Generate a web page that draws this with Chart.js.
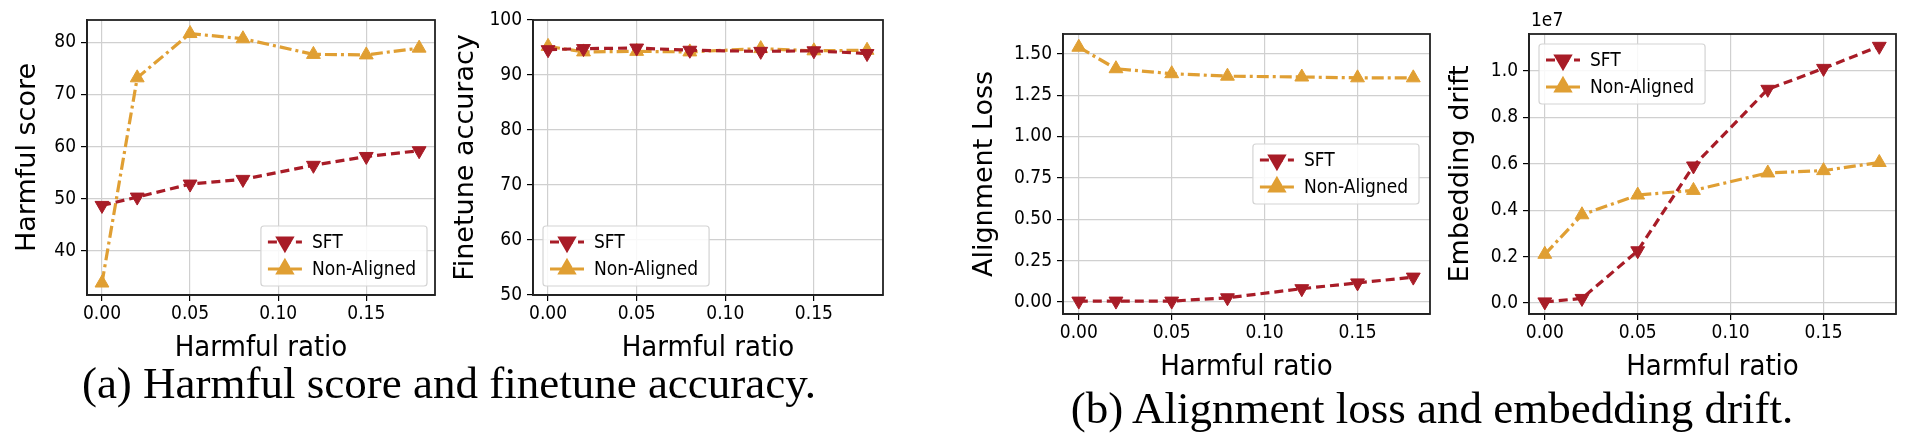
<!DOCTYPE html>
<html><head><meta charset="utf-8">
<script src="https://cdn.jsdelivr.net/npm/chart.js@4"></script>
<style>
body{margin:0;background:#fff;width:1922px;height:442px;position:relative;overflow:hidden}
.c{position:absolute}
.cap{position:absolute;font-family:"Liberation Serif",serif;font-size:45px;color:#000;white-space:nowrap;transform:translate(-50%,-50%)}
</style></head><body>
<div class="c" style="left:0;top:-10px;width:445px;height:380px"><canvas id="c1"></canvas></div>
<div class="c" style="left:446px;top:-10px;width:447px;height:380px"><canvas id="c2"></canvas></div>
<div class="c" style="left:968px;top:4px;width:472px;height:385px"><canvas id="c3"></canvas></div>
<div class="c" style="left:1439px;top:4px;width:467px;height:385px"><canvas id="c4"></canvas></div>
<div class="cap" style="left:449px;top:383px">(a) Harmful score and finetune accuracy.</div>
<div class="cap" style="left:1432px;top:408px">(b) Alignment loss and embedding drift.</div>
<script>
const ratios = [0, 0.02, 0.05, 0.08, 0.12, 0.15, 0.18];
const xTicks = [0, 0.05, 0.10, 0.15];
const seriesNames = ['SFT', 'Non-Aligned'];
const harmfulSFT = [48.7, 50.3, 52.8, 53.7, 56.4, 58.1, 59.2];
const harmfulNA = [33.8, 73.2, 81.7, 80.7, 77.7, 77.6, 78.9];
const accSFT = [94.6, 94.8, 94.9, 94.5, 94.3, 94.4, 93.9];
const accNA = [95.2, 94.2, 94.3, 94.2, 94.8, 94.4, 94.5];
const lossSFT = [0.005, 0.005, 0.005, 0.025, 0.08, 0.115, 0.15];
const lossNA = [1.54, 1.41, 1.38, 1.365, 1.36, 1.355, 1.355];
const driftSFT = [0.005, 0.02, 0.225, 0.59, 0.92, 1.01, 1.105]; // x1e7
const driftNA = [0.21, 0.38, 0.465, 0.485, 0.56, 0.57, 0.605]; // x1e7

const RED = '#A81C27', GOLD = '#E09F33';
const TF = 'DejaVu Sans Condensed';
const pts = arr => arr.map((v, i) => ({x: ratios[i], y: v}));
function ds(name, data) {
  const sft = name === seriesNames[0];
  return {label: name, data: pts(data), borderColor: sft ? RED : GOLD, backgroundColor: sft ? RED : GOLD,
    borderWidth: 3.2, borderDash: sft ? [9, 5] : [12, 4, 3, 4], pointStyle: 'triangle',
    rotation: sft ? 180 : 0, pointRadius: 8, pointBorderWidth: 1, tension: 0};
}
const legendPlugin = {
  id: 'lg',
  afterDraw(chart, args, o) {
    const ctx = chart.ctx, a = chart.chartArea;
    ctx.save();
    ctx.strokeStyle = '#222'; ctx.lineWidth = 1.8; ctx.strokeRect(a.left, a.top, a.right - a.left, a.bottom - a.top);
    ctx.font = '19px "' + TF + '"';
    const tw = Math.max(...chart.data.datasets.map(d => ctx.measureText(d.label).width));
    const w = tw + 62, h = 60;
    let x, y;
    if (o.pos === 'br') { x = a.right - 8 - w; y = a.bottom - 9 - h; }
    else if (o.pos === 'bl') { x = a.left + 10; y = a.bottom - 9 - h; }
    else if (o.pos === 'mr') { x = a.right - 11 - w; y = a.top + 110; }
    else { x = a.left + 10; y = a.top + 10; }
    ctx.fillStyle = 'rgba(255,255,255,0.85)'; ctx.strokeStyle = '#d4d4d4'; ctx.lineWidth = 1.2;
    ctx.beginPath(); ctx.roundRect(x, y, w, h, 3); ctx.fill(); ctx.stroke();
    chart.data.datasets.forEach((d, i) => {
      const cy = y + 16 + i * 27;
      ctx.strokeStyle = d.borderColor; ctx.lineWidth = 3.2; ctx.setLineDash(d.borderDash);
      ctx.beginPath(); ctx.moveTo(x + 7, cy); ctx.lineTo(x + 41, cy); ctx.stroke(); ctx.setLineDash([]);
      Chart.helpers.drawPoint(ctx, {pointStyle: 'triangle', rotation: d.rotation, radius: 8, borderWidth: 1}, x + 24, cy);
      ctx.fillStyle = d.borderColor; ctx.fill();
      ctx.fillStyle = '#000'; ctx.textBaseline = 'middle'; ctx.textAlign = 'left';
      ctx.fillText(d.label, x + 51, cy + 1);
    });
    if (o.exp) { ctx.font = '19px "' + TF + '"'; ctx.fillStyle = '#000'; ctx.textBaseline = 'bottom';
      ctx.fillText(o.exp, a.left + 2, a.top - 3); }
    ctx.restore();
  }
};
function make(id, a, b, ymin, ymax, ystep, ytitle, ywidth, tpad, pos, exp, fmt) {
  new Chart(document.getElementById(id), {
    type: 'line',
    data: {datasets: [ds(seriesNames[0], a), ds(seriesNames[1], b)]},
    options: {
      responsive: true, maintainAspectRatio: false, animation: false,
      layout: {padding: {top: 30, right: 10, left: 0, bottom: 0}},
      plugins: {legend: {display: false}, tooltip: {enabled: false}, lg: {pos, exp}},
      scales: {
        x: {type: 'linear', min: -0.0085, max: 0.189,
          afterBuildTicks: s => { s.ticks = xTicks.map(v => ({value: v})); },
          afterFit: s => { s.height = 75; },
          ticks: {callback: v => v.toFixed(2), font: {family: TF, size: 19}, color: '#000', padding: 2, maxRotation: 0},
          grid: {color: '#d0d0d0', lineWidth: 1.2, tickLength: 6, tickColor: '#000'},
          border: {color: '#222', width: 1.8},
          title: {display: true, text: 'Harmful ratio', font: {family: TF, size: 29}, color: '#000', padding: {top: 3}}},
        y: {min: ymin, max: ymax,
          afterBuildTicks: s => { const t = []; for (let v = Math.ceil(ymin / ystep - 1e-9) * ystep; v <= ymax + 1e-9; v += ystep) t.push({value: +v.toFixed(4)}); s.ticks = t; },
          afterFit: s => { s.width = ywidth; },
          ticks: {callback: fmt, font: {family: TF, size: 19}, color: '#000', padding: 5},
          grid: {color: '#d0d0d0', lineWidth: 1.2, tickLength: 6, tickColor: '#000'},
          border: {color: '#222', width: 1.8},
          title: {display: true, text: ytitle, font: {family: 'DejaVu Sans', size: 27}, color: '#000', padding: {top: tpad - 2, bottom: 0}}}
      }
    },
    plugins: [legendPlugin]
  });
}
make('c1', harmfulSFT, harmfulNA, 31.5, 84.3, 10, 'Harmful score', 87, 14, 'br', null, v => String(v));
make('c2', accSFT, accNA, 50, 100, 10, 'Finetune accuracy', 87, 6, 'bl', null, v => String(v));
make('c3', lossSFT, lossNA, -0.073, 1.62, 0.25, 'Alignment Loss', 95, 3, 'mr', null, v => v.toFixed(2));
make('c4', driftSFT, driftNA, -0.047, 1.158, 0.2, 'Embedding drift', 90, 8, 'tl', '1e7', v => v.toFixed(1));
</script></body></html>
